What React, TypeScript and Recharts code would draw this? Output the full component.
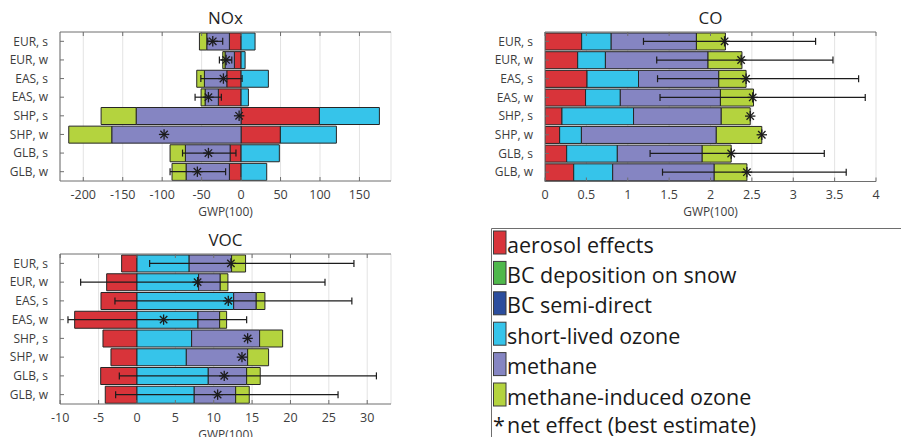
import React from 'react';
import { ComposedChart, Bar, Line, XAxis, YAxis, CartesianGrid, ErrorBar, Label } from 'recharts';

// Emission regions / seasons (s = summer, w = winter)
const regions = ['EUR, s', 'EUR, w', 'EAS, s', 'EAS, w', 'SHP, s', 'SHP, w', 'GLB, s', 'GLB, w'];

// ---- NOx ----
const noxAerosol = [-14.8, -8.5, -18.1, -28.8, 99.3, 49.8, -13.9, -14.8];
const noxOzone = [17.7, 5.1, 34.6, 9.3, 76.0, 71.0, 48.5, 32.5];
const noxMethane = [-28.7, -11.8, -28.4, -16.8, -133.0, -163.9, -56.7, -54.9];
const noxMethaneOzone = [-9.3, -2.9, -9.7, -5.1, -44.4, -54.5, -19.4, -17.8];
const noxNet = [-35.9, -19.0, -22.4, -41.4, -2.5, -97.6, -41.4, -55.4];
const noxLow = [-42.2, -27.5, -51.0, -58.3, null, null, -74.2, -90.0];
const noxHigh = [-23.3, -11.8, 1.3, -25.0, null, null, -6.5, -19.6];
const noxTicks = [-200, -150, -100, -50, 0, 50, 100, 150];
const noxDomain: [number, number] = [-229.5, 190];

// ---- CO ----
const coAerosol = [0.443, 0.395, 0.508, 0.49, 0.205, 0.177, 0.262, 0.347];
const coOzone = [0.357, 0.335, 0.622, 0.42, 0.865, 0.263, 0.612, 0.471];
const coMethane = [1.03, 1.24, 0.97, 1.21, 1.06, 1.63, 1.026, 1.227];
const coMethaneOzone = [0.35, 0.41, 0.33, 0.4, 0.35, 0.55, 0.35, 0.395];
const coNet = [2.17, 2.37, 2.43, 2.51, 2.48, 2.62, 2.25, 2.44];
const coLow = [1.19, 1.35, 1.36, 1.39, null, null, 1.27, 1.42];
const coHigh = [3.27, 3.48, 3.79, 3.87, null, null, 3.375, 3.64];
const coTicks = [0, 0.5, 1, 1.5, 2, 2.5, 3, 3.5, 4];
const coDomain: [number, number] = [0, 4];

// ---- VOC ----
const vocAerosol = [-2.0, -3.95, -4.69, -8.12, -4.43, -3.39, -4.73, -4.13];
const vocOzone = [6.8, 8.03, 12.6, 7.95, 7.12, 6.43, 9.29, 7.46];
const vocMethane = [5.53, 2.82, 2.94, 2.82, 8.86, 7.99, 5.0, 5.4];
const vocMethaneOzone = [1.82, 1.0, 1.13, 0.91, 3.0, 2.73, 1.77, 1.77];
const vocNet = [12.24, 7.9, 11.9, 3.47, 14.42, 13.68, 11.37, 10.51];
const vocLow = [1.65, -7.34, -2.87, -8.99, null, null, -2.3, -2.78];
const vocHigh = [28.27, 24.5, 28.0, 14.29, null, null, 31.2, 26.2];
const vocTicks = [-10, -5, 0, 5, 10, 15, 20, 25, 30];
const vocDomain: [number, number] = [-10.03, 33.1];

const legendLabels = [
  'aerosol effects',
  'BC deposition on snow',
  'BC semi-direct',
  'short-lived ozone',
  'methane',
  'methane-induced ozone',
];
const netLabel = 'net effect (best estimate)';

const COLORS = {
  aerosol: '#d8343a',
  bcSnow: '#4fb84b',
  bcSemi: '#2b4d9d',
  ozone: '#36c4ea',
  methane: '#8585c2',
  methaneOzone: '#b4d33e',
};
const legendColors = [COLORS.aerosol, COLORS.bcSnow, COLORS.bcSemi, COLORS.ozone, COLORS.methane, COLORS.methaneOzone];

const FONT = "'Open Sans', 'Noto Sans', sans-serif";
const AXIS = '#6e6e6e';
const TEXT = '#3d3d3d';
const EDGE = '#262626';

type Row = {
  region: string;
  aerosol: number;
  ozone: number;
  methane: number;
  methaneOzone: number;
  net: number;
  err?: [number, number];
};

function buildRows(
  aer: number[], oz: number[], ch4: number[], mio: number[],
  net: number[], low: (number | null)[], high: (number | null)[],
): Row[] {
  return regions.map((region, i) => {
    const lo = low[i];
    const hi = high[i];
    return {
      region,
      aerosol: aer[i],
      ozone: oz[i],
      methane: ch4[i],
      methaneOzone: mio[i],
      net: net[i],
      err: lo == null || hi == null ? undefined : [net[i] - lo, hi - net[i]],
    };
  });
}

const noxRows = buildRows(noxAerosol, noxOzone, noxMethane, noxMethaneOzone, noxNet, noxLow, noxHigh);
const coRows = buildRows(coAerosol, coOzone, coMethane, coMethaneOzone, coNet, coLow, coHigh);
const vocRows = buildRows(vocAerosol, vocOzone, vocMethane, vocMethaneOzone, vocNet, vocLow, vocHigh);

// Asterisk marker for the net effect
const StarDot = (p: any) => {
  const { cx, cy } = p;
  if (cx == null || cy == null || isNaN(cx) || isNaN(cy)) return <g />;
  const r = 5.2;
  const d = 3.7;
  return (
    <g stroke="#1c1c1c" strokeWidth={1.3}>
      <line x1={cx - r} y1={cy} x2={cx + r} y2={cy} />
      <line x1={cx} y1={cy - r} x2={cx} y2={cy + r} />
      <line x1={cx - d} y1={cy - d} x2={cx + d} y2={cy + d} />
      <line x1={cx - d} y1={cy + d} x2={cx + d} y2={cy - d} />
    </g>
  );
};

const X_MARGIN = 9;
const Y_MARGIN = 12;
const TICK_LEN = 4;

const BottomTick = (p: any) => {
  const { x, y, payload } = p;
  const axisY = y - X_MARGIN;
  return (
    <g>
      <line x1={x} y1={axisY} x2={x} y2={axisY - TICK_LEN} stroke={AXIS} />
      <text x={x} y={y} dy="0.71em" textAnchor="middle" fill={TEXT} fontSize={12.5} fontFamily={FONT}>
        {String(payload.value)}
      </text>
    </g>
  );
};

const TopTick = (p: any) => {
  const { x, y } = p;
  return <line x1={x} y1={y} x2={x} y2={y + TICK_LEN} stroke={AXIS} />;
};

const LeftTick = (p: any) => {
  const { x, y, payload } = p;
  const axisX = x + Y_MARGIN;
  return (
    <g>
      <line x1={axisX} y1={y} x2={axisX + TICK_LEN} y2={y} stroke={AXIS} />
      <text x={x} y={y} dy="0.355em" textAnchor="end" fill={TEXT} fontSize={12} fontFamily={FONT}>
        {payload.value}
      </text>
    </g>
  );
};

const RightTick = (p: any) => {
  const { x, y } = p;
  return <line x1={x} y1={y} x2={x - TICK_LEN} y2={y} stroke={AXIS} />;
};

type PanelProps = {
  rows: Row[];
  title: string;
  domain: [number, number];
  ticks: number[];
  left: number;
  top: number;
  width: number;
  height: number;
  yAxisWidth: number;
  titleHeight: number;
  marginRight: number;
  xAxisHeight: number;
  labelOffset: number;
};

function Panel(props: PanelProps) {
  const { rows, title, domain, ticks, left, top, width, height, yAxisWidth, titleHeight, marginRight, xAxisHeight, labelOffset } = props;
  return (
    <div style={{ position: 'absolute', left, top }}>
      <ComposedChart
        width={width}
        height={height}
        data={rows}
        layout="vertical"
        stackOffset="sign"
        barCategoryGap={1}
        margin={{ top: 0, right: marginRight, bottom: 0, left: 0 }}
      >
        <CartesianGrid horizontal={false} stroke="#e3e3e3" />
        <XAxis
          type="number"
          domain={domain}
          ticks={ticks}
          allowDataOverflow
          interval={0}
          tickSize={0}
          tickMargin={X_MARGIN}
          height={xAxisHeight}
          axisLine={{ stroke: AXIS }}
          tick={<BottomTick />}
        >
          <Label value="GWP(100)" position="insideBottom" offset={labelOffset} fill={TEXT} fontSize={12} fontFamily={FONT} />
        </XAxis>
        <XAxis
          xAxisId="top"
          orientation="top"
          type="number"
          domain={domain}
          ticks={ticks}
          allowDataOverflow
          interval={0}
          height={titleHeight}
          tickSize={0}
          tickMargin={0}
          axisLine={{ stroke: AXIS }}
          tick={<TopTick />}
        >
          <Label value={title} position="insideBottom" offset={8} fill="#1f1f1f" fontSize={17} fontFamily={FONT} />
        </XAxis>
        <YAxis
          type="category"
          dataKey="region"
          width={yAxisWidth}
          interval={0}
          tickSize={0}
          tickMargin={Y_MARGIN}
          axisLine={{ stroke: AXIS }}
          tick={<LeftTick />}
        />
        <YAxis
          yAxisId="right"
          orientation="right"
          type="category"
          dataKey="region"
          width={0}
          interval={0}
          tickSize={0}
          tickMargin={0}
          axisLine={{ stroke: AXIS }}
          tick={<RightTick />}
        />
        <Bar dataKey="aerosol" stackId="s" fill={COLORS.aerosol} stroke={EDGE} strokeWidth={1} isAnimationActive={false} />
        <Bar dataKey="ozone" stackId="s" fill={COLORS.ozone} stroke={EDGE} strokeWidth={1} isAnimationActive={false} />
        <Bar dataKey="methane" stackId="s" fill={COLORS.methane} stroke={EDGE} strokeWidth={1} isAnimationActive={false} />
        <Bar dataKey="methaneOzone" stackId="s" fill={COLORS.methaneOzone} stroke={EDGE} strokeWidth={1} isAnimationActive={false} />
        <Line dataKey="net" stroke="none" dot={<StarDot />} activeDot={false} isAnimationActive={false} legendType="none">
          <ErrorBar dataKey="err" direction="x" width={3.5} stroke="#1c1c1c" strokeWidth={1.2} />
        </Line>
      </ComposedChart>
    </div>
  );
}

function LegendBox() {
  const rowTop = 231;
  const step = 30.4;
  const size = 21.5;
  return (
    <svg width={421} height={217} style={{ position: 'absolute', left: 480, top: 220 }}>
      <g transform="translate(-480,-220)">
        <line x1={491.5} y1={228.5} x2={901} y2={228.5} stroke={AXIS} />
        <line x1={491.5} y1={228.5} x2={491.5} y2={437} stroke={AXIS} />
        {legendLabels.map((label, i) => (
          <g key={label}>
            <rect x={493.5} y={rowTop + i * step} width={12.5} height={23} fill={legendColors[i]} stroke="#3a3a3a" strokeWidth={1} />
            <text x={507} y={rowTop + i * step + 21.5} fill="#1a1a1a" fontSize={size} fontFamily={FONT}>
              {label}
            </text>
          </g>
        ))}
        <text x={493} y={rowTop + 6 * step + 19.5} fill="#1a1a1a" fontSize={size} fontFamily={FONT}>
          *
        </text>
        <text x={507} y={rowTop + 6 * step + 19.5} fill="#1a1a1a" fontSize={size} fontFamily={FONT}>
          {netLabel}
        </text>
      </g>
    </svg>
  );
}

export default function App() {
  return (
    <div style={{ position: 'absolute', left: 0, top: 0, width: 901, height: 437, overflow: 'hidden', background: '#fff' }}>
      <Panel
        rows={noxRows}
        title="NOx"
        domain={noxDomain}
        ticks={noxTicks}
        left={0}
        top={0}
        width={400}
        height={218}
        yAxisWidth={60}
        titleHeight={32}
        marginRight={9}
        xAxisHeight={37}
        labelOffset={2.5}
      />
      <Panel
        rows={coRows}
        title="CO"
        domain={coDomain}
        ticks={coTicks}
        left={480}
        top={0}
        width={400}
        height={218}
        yAxisWidth={65}
        titleHeight={32}
        marginRight={4}
        xAxisHeight={36.5}
        labelOffset={2.5}
      />
      <Panel
        rows={vocRows}
        title="VOC"
        domain={vocDomain}
        ticks={vocTicks}
        left={0}
        top={222}
        width={400}
        height={215}
        yAxisWidth={60}
        titleHeight={32}
        marginRight={9}
        xAxisHeight={33}
        labelOffset={-2}
      />
      <LegendBox />
    </div>
  );
}
